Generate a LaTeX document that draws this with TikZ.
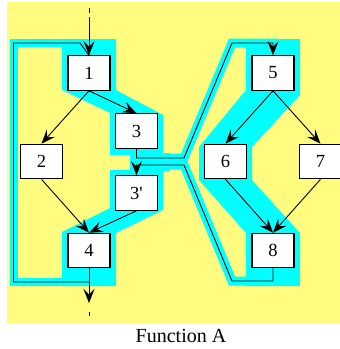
\documentclass[tikz,border=0pt]{standalone}
\usepackage{fontspec}
\setmainfont{Liberation Serif}[Ligatures=TeXOff]
\usetikzlibrary{arrows.meta,backgrounds}
\definecolor{bgyellow}{RGB}{255,252,128}
\definecolor{hicyan}{RGB}{0,255,255}
\begin{document}
\begin{tikzpicture}[x=1pt,y=-1pt,
  box/.style={draw,line width=1.1pt,fill=white,minimum width=42pt,minimum height=34.5pt,inner sep=0pt,font=\fontsize{18.5}{18.5}\selectfont},
  conn/.style={line width=0.9pt},
  arr/.style={conn,-{Stealth[length=14pt,width=11pt,inset=5.5pt]}},
  band/.style={hicyan,line width=9pt},
  thinband/.style={hicyan,line width=8pt}]
\useasboundingbox (0,0) rectangle (340,349);
% nodes
\node[box] (n1) at (89,73) {1};
\node[box] (n2) at (41.5,161.5) {2};
\node[box] (n3) at (136.5,131) {3};
\node[box] (n3p) at (136.5,193) {3'};
\node[box] (n4) at (89,250.5) {4};
\node[box] (n5) at (273,73) {5};
\node[box] (n6) at (225.5,161.5) {6};
\node[box] (n7) at (320.5,161.5) {7};
\node[box] (n8) at (273,250.5) {8};
\node[font=\fontsize{20}{20}\selectfont] (cap) at (181,335.5) {Function A};
% coordinates
\coordinate (inTop) at (89,8);
\coordinate (inDash) at (89,13);
\coordinate (inStart) at (89,17);
\coordinate (outTip) at (89,303);
\coordinate (outDash) at (89,312);
\coordinate (outEnd) at (89,316);
\coordinate (lp0) at (89,282);
\coordinate (lpBL) at (13.5,282);
\coordinate (lpTL) at (13.5,43);
\coordinate (lpTR) at (80,43);
\coordinate (a1) at (184,158);
\coordinate (a2) at (232,43);
\coordinate (b1) at (232,281);
\coordinate (b2) at (184,165);
% background highlight
\begin{pgfonlayer}{background}
\fill[bgyellow] (7,2) rectangle (340,323);
\fill[hicyan] (62,39) -- (116,39) -- (116,90) -- (163,115) -- (163,155) -- (110,155) -- (110,113) -- (62,90) -- cycle;
\fill[hicyan] (110,170) -- (163,170) -- (163,210) -- (116,233) -- (116,286) -- (62,286) -- (62,232) -- (110,208) -- cycle;
\fill[hicyan] (130,153) rectangle (170,171);
\fill[hicyan] (246,39) -- (300,39) -- (300,95) -- (252,147) -- (252,180) -- (300,233) -- (300,286) -- (246,286) -- (246,233) -- (199,180) -- (199,147) -- (246,90) -- cycle;
\draw[thinband] (lp0) -- (lpBL) -- (lpTL) -- (lpTR);
\draw[band] (n3.south) |- (a1) -- (a2) -| (n5.north);
\draw[band] (n8.south) |- (b1) -- (b2) -| (n3p.north);
\end{pgfonlayer}
% connectors
\draw[conn] (inTop) -- (inDash);
\draw[arr] (inStart) -- (n1.north);
\draw[arr] (n4.south) -- (outTip);
\draw[conn] (outDash) -- (outEnd);
\draw[conn] (lp0) -- (lpBL) -- (lpTL) -- (lpTR) -- (n1.north);
\draw[arr] (n1.south) -- (n2.north);
\draw[arr] (n1.south) -- (n3.north);
\draw[arr] (n2.south) -- (n4.north);
\draw[arr] (n3p.south) -- (n4.north);
\draw[arr] (n5.south) -- (n6.north);
\draw[arr] (n5.south) -- (n7.north);
\draw[arr] (n6.south) -- (n8.north);
\draw[arr] (n7.south) -- (n8.north);
\draw[arr] (n3.south) |- (a1) -- (a2) -| (n5.north);
\draw[arr] (n8.south) |- (b1) -- (b2) -| (n3p.north);
\end{tikzpicture}
\end{document}
